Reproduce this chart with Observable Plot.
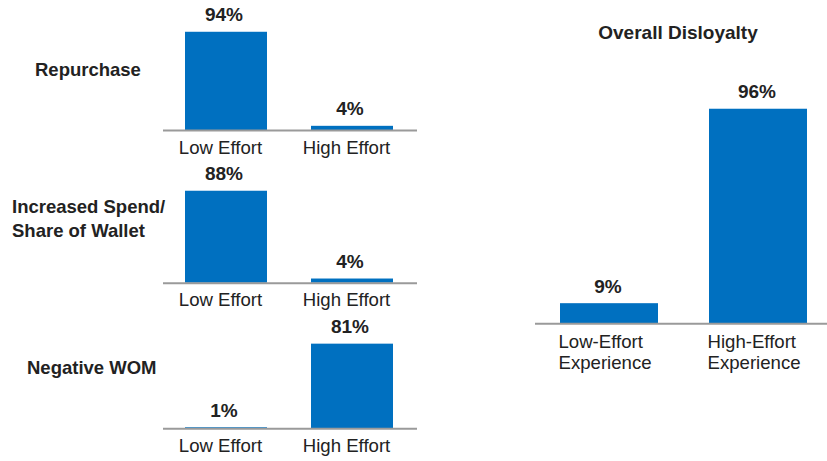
<!DOCTYPE html>
<html>
<head>
<meta charset="utf-8">
<script src="https://cdn.jsdelivr.net/npm/d3@7"></script>
<script src="https://cdn.jsdelivr.net/npm/@observablehq/plot@0.6"></script>
<style>
  body { margin: 0; background: #fff; }
  #chart { position: relative; width: 827px; height: 461px; overflow: hidden;
           font-family: "Liberation Sans", Arial, Helvetica, sans-serif; color: #222; }
  #chart svg { position: absolute; }
  .rowlabel, .title { position: absolute; font-weight: bold; font-size: 18.5px; white-space: pre; }
  .title { font-size: 19px; }
</style>
</head>
<body>
<div id="chart"></div>
<script>
// Effort outcomes (% of customers)
const effortLevels = ["Low Effort", "High Effort"];
const repurchase = [94, 4];
const increasedSpend = [88, 4];
const negativeWom = [1, 81];
const rowLabels = ["Repurchase", "Increased Spend/\nShare of Wallet", "Negative WOM"];

// Overall disloyalty
const disloyaltyTitle = "Overall Disloyalty";
const experienceLevels = ["Low-Effort\nExperience", "High-Effort\nExperience"];
const overallDisloyalty = [9, 96];

const BLUE = "#0070C0";
const AXIS = "#9a9a9a";
const FONT = '"Liberation Sans", Arial, Helvetica, sans-serif';
const chart = document.getElementById("chart");

function place(el, left, top) {
  el.style.left = left + "px";
  el.style.top = top + "px";
  chart.appendChild(el);
}

// One small two-bar panel; baseline is the y of the zero line inside the svg
function smallPanel(values, {top, height, baseline}) {
  const data = effortLevels.map((level, i) => ({level, value: values[i]}));
  const full = 104.5; // px for 100%
  const svg = Plot.plot({
    width: 420,
    height,
    marginLeft: 163,
    marginRight: 3,
    marginTop: baseline - full,
    marginBottom: height - baseline,
    style: {fontFamily: FONT, color: "#222", background: "transparent", overflow: "visible"},
    x: {type: "band", domain: effortLevels, range: [185, 394], paddingInner: 0.348, paddingOuter: 0, label: null},
    y: {domain: [0, 100], axis: null},
    marks: [
      Plot.barY(data, {x: "level", y: "value", fill: BLUE}),
      Plot.ruleY([0], {stroke: AXIS, strokeWidth: 2}),
      Plot.text(data, {x: "level", y: "value", text: d => d.value + "%", dx: -2.5, dy: -17,
                       fontWeight: "bold", fontSize: 19}),
      Plot.axisX({tickSize: 0, tickPadding: 10, fontSize: 18.6, dx: -6, label: null})
    ]
  });
  place(svg, 0, top);
}

smallPanel(repurchase, {top: 0, height: 160, baseline: 130});
smallPanel(increasedSpend, {top: 160, height: 150, baseline: 122.7});
smallPanel(negativeWom, {top: 310, height: 151, baseline: 118.3});

// Row labels beside each small panel
[[rowLabels[0], 35, 58, 24], [rowLabels[1], 12, 194.5, 24.3], [rowLabels[2], 27, 355.7, 24]]
  .forEach(([text, left, top, lh]) => {
    const d = document.createElement("div");
    d.className = "rowlabel";
    d.style.lineHeight = lh + "px";
    d.textContent = text;
    place(d, left, top);
  });

// Overall disloyalty panel
{
  const data = experienceLevels.map((level, i) => ({level, value: overallDisloyalty[i]}));
  const height = 380, baseline = 323.3, full = 223.5;
  const svg = Plot.plot({
    width: 307,
    height,
    marginLeft: 15,
    marginRight: 0,
    marginTop: baseline - full,
    marginBottom: height - baseline,
    style: {fontFamily: FONT, color: "#222", background: "transparent", overflow: "visible"},
    x: {type: "band", domain: experienceLevels, range: [39.3, 287.3], paddingInner: 0.345, paddingOuter: 0, axis: null},
    y: {domain: [0, 100], axis: null},
    marks: [
      Plot.barY(data, {x: "level", y: "value", fill: BLUE}),
      Plot.ruleY([0], {stroke: AXIS, strokeWidth: 2}),
      Plot.text(data, {x: "level", y: "value", text: d => d.value + "%", dx: -1.5, dy: -17,
                       fontWeight: "bold", fontSize: 19}),
      Plot.text(data, {x: "level", y: 0, text: "level", textAnchor: "start", lineAnchor: "top",
                       dx: -51, dy: 10, fontSize: 18.6, lineHeight: 1.11})
    ]
  });
  place(svg, 520, 0);

  const t = document.createElement("div");
  t.className = "title";
  t.style.width = "316px";
  t.style.textAlign = "center";
  t.style.lineHeight = "24px";
  t.textContent = disloyaltyTitle;
  place(t, 520, 21);
}
</script>
</body>
</html>
